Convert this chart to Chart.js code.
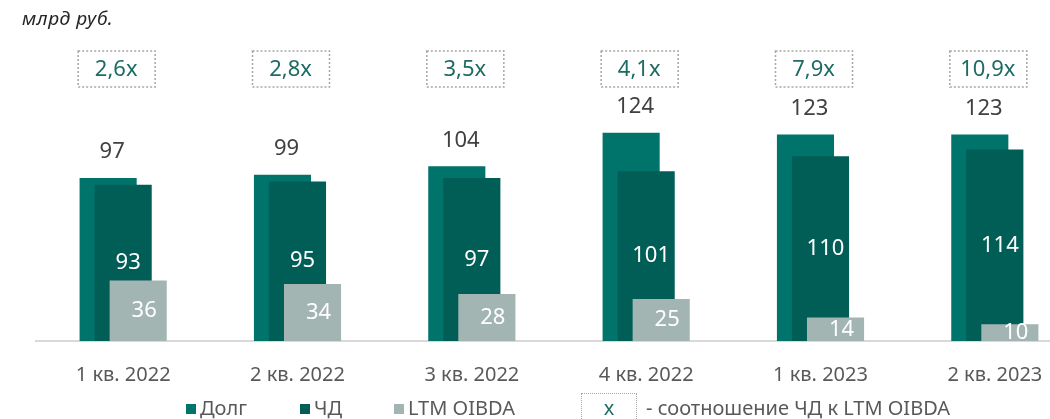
<!DOCTYPE html>
<html lang="ru">
  <head>
    <meta charset="UTF-8" />
    <title>Долг, ЧД и LTM OIBDA</title>
    <script src="https://cdn.jsdelivr.net/npm/chart.js"></script>
    <style>
      body {
        margin: 0;
        background: #ffffff;
        font-family: "Noto Sans", sans-serif;
        overflow: hidden;
      }
      .wrap {
        position: relative;
        width: 1050px;
        height: 419px;
        overflow: hidden;
      }
      #chart {
        position: absolute;
        left: 0;
        top: 0;
      }
      .unit {
        position: absolute;
        left: 22px;
        top: 5px;
        font-size: 19px;
        letter-spacing: 0.6px;
        font-style: italic;
        color: #262626;
      }
      .legend {
        position: absolute;
        top: 396px;
        font-size: 20px;
        color: #595959;
        white-space: nowrap;
        line-height: 24px;
      }
      .legend i {
        display: inline-block;
        width: 10px;
        height: 10px;
        margin-right: 4px;
        vertical-align: 1px;
      }
      .ratio-box {
        position: absolute;
        left: 581px;
        top: 393px;
        width: 54px;
        height: 30px;
        border: 1.5px dotted #a6a6a6;
        color: #1d6b63;
        font-size: 20px;
        text-align: center;
        line-height: 28px;
      }
    </style>
  </head>
  <body>
    <div class="wrap">
      <canvas id="chart" width="1082" height="419"></canvas>
      <div class="unit">млрд руб.</div>
      <div class="legend" style="left: 186px"><i style="background: #00736a"></i>Долг</div>
      <div class="legend" style="left: 300px"><i style="background: #005e57"></i>ЧД</div>
      <div class="legend" style="left: 394px"><i style="background: #a3b5b3"></i>LTM OIBDA</div>
      <div class="ratio-box">x</div>
      <div class="legend" style="left: 646px">- соотношение ЧД к LTM OIBDA</div>
    </div>

    <script>
      // данные
      const categories = ["1 кв. 2022", "2 кв. 2022", "3 кв. 2022", "4 кв. 2022", "1 кв. 2023", "2 кв. 2023"];
      const debt = [97, 99, 104, 124, 123, 123];
      const netDebt = [93, 95, 97, 101, 110, 114];
      const oibda = [36, 34, 28, 25, 14, 10];
      const ratios = ["2,6x", "2,8x", "3,5x", "4,1x", "7,9x", "10,9x"];

      const FONT = "Noto Sans";

      // порядок отрисовки: Долг, затем ЧД, затем OIBDA поверх
      const overlapPlugin = {
        id: "overlap",
        beforeDatasetDraw() {
          return false;
        },
        afterDatasetsDraw(chart) {
          const ctx = chart.ctx;
          for (let i = 0; i < chart.data.datasets.length; i++) {
            chart.getDatasetMeta(i).controller.draw();
          }

          ctx.save();
          ctx.textAlign = "center";
          ctx.textBaseline = "middle";
          ctx.font = "22px '" + FONT + "'";

          // подписи Долг над столбцами
          chart.getDatasetMeta(0).data.forEach(function (bar, i) {
            ctx.fillStyle = "#404040";
            ctx.fillText(debt[i], bar.x + 4, bar.y - 26);
          });
          // подписи ЧД в центре
          chart.getDatasetMeta(1).data.forEach(function (bar, i) {
            ctx.fillStyle = "#ffffff";
            ctx.fillText(netDebt[i], bar.x + 5, (bar.y + bar.base) / 2);
          });
          // подписи OIBDA
          chart.getDatasetMeta(2).data.forEach(function (bar, i) {
            ctx.fillStyle = "#ffffff";
            ctx.fillText(oibda[i], bar.x + 6, (bar.y + bar.base) / 2);
          });

          // мультипликаторы в пунктирных рамках
          const xScale = chart.scales.x;
          ratios.forEach(function (r, i) {
            const cx = xScale.getPixelForValue(i) - 7;
            ctx.setLineDash([2, 2]);
            ctx.lineWidth = 1.5;
            ctx.strokeStyle = "#a6a6a6";
            ctx.strokeRect(cx - 38, 51, 77, 36);
            ctx.setLineDash([]);
            ctx.fillStyle = "#1d6b63";
            ctx.fillText(r, cx, 70);
          });
          ctx.restore();
        },
      };

      const ctx = document.getElementById("chart").getContext("2d");
      new Chart(ctx, {
        type: "bar",
        data: {
          labels: categories,
          datasets: [
            { label: "Долг", data: debt, backgroundColor: "#00736a" },
            { label: "ЧД", data: netDebt, backgroundColor: "#005e57" },
            { label: "LTM OIBDA", data: oibda, backgroundColor: "#a3b5b3" },
          ],
        },
        options: {
          responsive: false,
          animation: false,
          categoryPercentage: 45 / 174,
          barPercentage: 57 / 15,
          layout: {
            padding: { left: 36, right: 0, top: 0, bottom: 18 },
          },
          plugins: {
            legend: { display: false },
            tooltip: { enabled: false },
          },
          scales: {
            x: {
              grid: { display: false },
              border: { display: true, color: "#d9d9d9", width: 2 },
              ticks: {
                color: "#595959",
                font: { family: FONT, size: 20 },
                padding: 14,
              },
            },
            y: {
              display: false,
              min: 0,
              max: 203,
            },
          },
        },
        plugins: [overlapPlugin],
      });
    </script>
  </body>
</html>
